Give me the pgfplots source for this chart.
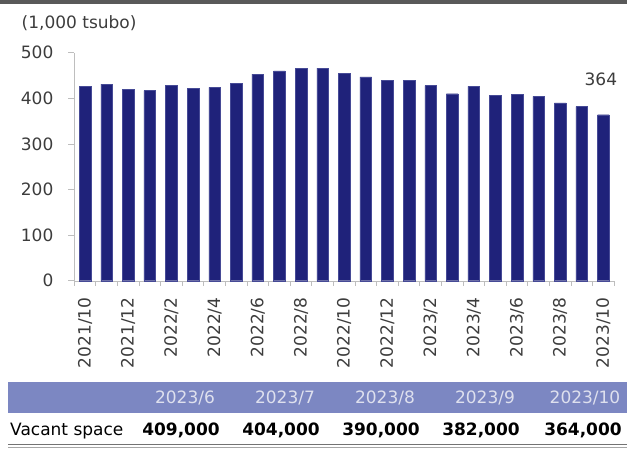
\documentclass[border=0pt]{standalone}
\usepackage{pgfplots}
\pgfplotsset{compat=1.18}
\usepackage{fontspec}
\setmainfont{DejaVu Sans}
\definecolor{barc}{RGB}{31,34,122}
\definecolor{bared}{RGB}{70,74,150}
\definecolor{hdr}{RGB}{124,135,194}
\definecolor{hdrtxt}{RGB}{222,224,238}
\definecolor{txt}{RGB}{60,60,60}
\definecolor{axc}{RGB}{190,190,190}
\begin{document}
\fontsize{17}{20}\selectfont
\begin{tikzpicture}[x=1pt,y=1pt]
\fill[black!65] (0,0) rectangle (627,-4);
\node[anchor=base west, text=txt, inner sep=0pt] at (21.5,-28.5) {(1,000 tsubo)};
\begin{axis}[
 at={(74.2pt,-280.7pt)}, anchor=south west,
 scale only axis, width=540pt, height=228pt,
 xmin=-0.5, xmax=24.5, ymin=0, ymax=500,
 axis x line*=bottom, axis y line*=left,
 axis line style={axc, -},
 ytick={0,100,...,500},
 xtick={0,2,...,24},
 xticklabels={2021/10,2021/12,2022/2,2022/4,2022/6,2022/8,2022/10,2022/12,2023/2,2023/4,2023/6,2023/8,2023/10},
 minor xtick={-0.5,0.5,...,24.5},
 major x tick style={draw=none},
 tick style={axc, line width=0.8pt},
 tick align=outside,
 major tick length=6pt, minor tick length=5pt,
 xticklabel style={yshift=-5pt, rotate=90, anchor=east, font=\fontsize{17}{20}\selectfont, text=txt},
 yticklabel style={xshift=-9pt, font=\fontsize{17}{20}\selectfont, text=txt},
 /pgf/number format/assume math mode=true,
 clip=false,
]
\addplot[ybar, bar width=0.54, fill=barc, draw=bared, line width=0.3pt] coordinates {
(0,426) (1,431) (2,420) (3,417) (4,428) (5,422) (6,424) (7,433) (8,453) (9,460)
(10,466) (11,466) (12,455) (13,447) (14,440) (15,440) (16,428) (17,410) (18,426) (19,406)
(20,409) (21,404) (22,390) (23,382) (24,364)};
\node[text=txt, inner sep=0pt, yshift=35pt, xshift=-2.5pt] at (axis cs:24,364) {364};
\end{axis}
\fill[hdr] (8,-381.7) rectangle (627,-413.3);
\foreach \h [count=\i from 0] in {2023/6,2023/7,2023/8,2023/9,2023/10}
  \node[anchor=base, text=hdrtxt, inner sep=0pt] at (185+100*\i,-403.3) {\h};
\node[anchor=base west, text=black, inner sep=0pt] at (10,-435) {Vacant space};
\foreach \v/\xx in {{409,000}/181,{404,000}/281,{390,000}/381,{382,000}/481,{364,000}/583}
  \node[anchor=base, inner sep=0pt, font=\bfseries] at (\xx,-435) {\v};
\draw[black!55, line width=1.3pt] (8,-444.8) -- (627,-444.8);
\draw[black!35, line width=1pt] (8,-447.3) -- (627,-447.3);
\pgfresetboundingbox
\path[use as bounding box] (0,0) rectangle (627,-450);
\end{tikzpicture}
\end{document}
